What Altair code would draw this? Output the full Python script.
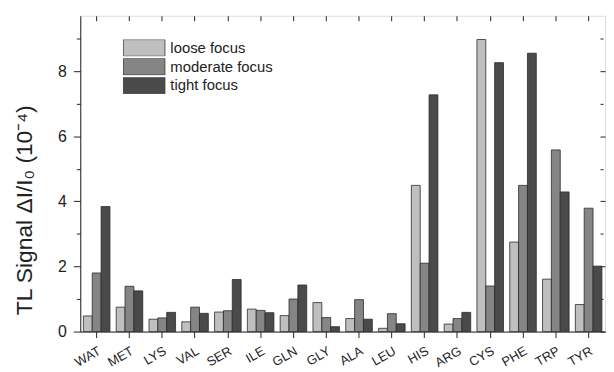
import altair as alt
import pandas as pd

categories = ["WAT", "MET", "LYS", "VAL", "SER", "ILE", "GLN", "GLY",
              "ALA", "LEU", "HIS", "ARG", "CYS", "PHE", "TRP", "TYR"]
series = ["loose focus", "moderate focus", "tight focus"]
loose = [0.48, 0.75, 0.38, 0.30, 0.60, 0.69, 0.49, 0.89,
         0.40, 0.10, 4.49, 0.23, 8.97, 2.75, 1.61, 0.83]
moderate = [1.80, 1.39, 0.42, 0.75, 0.64, 0.65, 1.00, 0.43,
            0.98, 0.55, 2.10, 0.40, 1.40, 4.49, 5.58, 3.79]
tight = [3.84, 1.25, 0.59, 0.56, 1.60, 0.58, 1.43, 0.15,
         0.38, 0.24, 7.27, 0.59, 8.26, 8.55, 4.29, 2.01]
colors = ["#bfbfbf", "#858585", "#4a4a4a"]
y_ticks = [0, 1, 2, 3, 4, 5, 6, 7, 8, 9]

rows = []
for s, vals in zip(series, [loose, moderate, tight]):
    for c, v in zip(categories, vals):
        rows.append({"cat": c, "series": s, "value": v})
df = pd.DataFrame(rows)

FONT = "Liberation Sans"
ydom = [0, 9.7]
xscale = alt.Scale(domain=categories, paddingInner=0.19, paddingOuter=0.095)
minor = {"condition": {"test": "datum.value % 2 === 1", "value": 4}, "value": 7}

bars = alt.Chart(df).mark_bar(stroke="#2a2a2a", strokeWidth=0.8).encode(
    x=alt.X("cat:N", sort=categories, scale=xscale, title=None,
            axis=alt.Axis(labelAngle=-30, labelAlign="right", labelBaseline="top",
                          labelFontSize=13, labelFont=FONT, labelColor="#222",
                          tickSize=6, tickColor="#222", domainColor="#222",
                          labelPadding=7, grid=False)),
    xOffset=alt.XOffset("series:N", sort=series, scale=alt.Scale(paddingInner=0, paddingOuter=0)),
    y=alt.Y("value:Q", scale=alt.Scale(domain=ydom, nice=False, zero=True),
            title="TL Signal ΔI/I₀ (10⁻⁴)",
            axis=alt.Axis(values=y_ticks, grid=False, domainColor="#222", tickColor="#222",
                          labelExpr="datum.value % 2 === 0 ? datum.label : ''",
                          tickSize=minor,
                          labelFontSize=16, labelFont=FONT, labelColor="#222", labelPadding=7,
                          titleFontSize=23, titleFont=FONT, titleFontWeight="normal",
                          titleColor="#222", titleX=-44, titleY=196, titleAngle=270,
                          titleBaseline="bottom", titleAlign="center")),
    color=alt.Color("series:N", sort=series,
                    scale=alt.Scale(domain=series, range=colors),
                    legend=alt.Legend(title=None, orient="none", legendX=43, legendY=24,
                                      symbolType="M-1,-0.4H1V0.4H-1Z", symbolSize=1764,
                                      symbolStrokeColor="#333", symbolStrokeWidth=0.8,
                                      clipHeight=17, rowPadding=2, labelOffset=5,
                                      labelFontSize=15, labelFont=FONT, labelColor="#222",
                                      symbolOpacity=1)),
)

ghost = alt.Chart(df).mark_bar(opacity=0, clip=True).encode(
    x=alt.X("cat:N", sort=categories, scale=xscale, title=None,
            axis=alt.Axis(orient="top", labels=False, domain=False, tickSize=5,
                          offset=-5, tickColor="#222", grid=False)),
    y=alt.Y("value:Q", stack=None, scale=alt.Scale(domain=ydom, nice=False, zero=True), title=None,
            axis=alt.Axis(orient="right", labels=False, domain=False, values=y_ticks,
                          tickSize={"condition": {"test": "datum.value % 2 === 1", "value": 3}, "value": 5},
                          offset=-5, tickColor="#222", grid=False)),
)

chart = alt.layer(bars, ghost).resolve_scale(
    x="independent", y="independent"
).properties(
    width=530, height=319,
    padding={"left": 6, "top": 5, "right": 0, "bottom": 0},
).configure_view(stroke="#222", strokeWidth=1).configure(background="white")

chart.save("out.html", embed_options={"renderer": "svg", "actions": False})
